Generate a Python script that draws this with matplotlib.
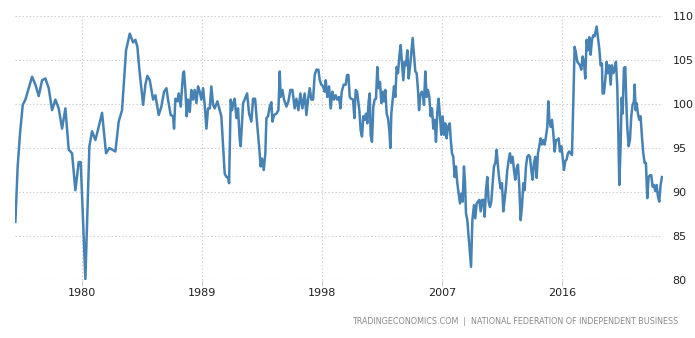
import numpy as np
import matplotlib.pyplot as plt

# NFIB small business optimism index, decimal years
years = [
    1975.0, 1975.17, 1975.35, 1975.55, 1975.75, 1976.0, 1976.25, 1976.5, 1976.75,
    1977.0, 1977.25, 1977.5, 1977.75, 1978.0, 1978.25, 1978.5, 1978.75,
    1979.0, 1979.25, 1979.5, 1979.75, 1979.9, 1980.25, 1980.55, 1980.75,
    1981.0, 1981.25, 1981.5, 1981.8, 1982.05, 1982.5, 1982.75, 1983.0,
    1983.3, 1983.58, 1983.83, 1984.0, 1984.15, 1984.3, 1984.58, 1984.75,
    1984.9, 1985.08, 1985.33, 1985.5, 1985.75, 1985.95,
    1986.15, 1986.33, 1986.45, 1986.65, 1986.83, 1986.9, 1987.0, 1987.15,
    1987.25, 1987.4, 1987.58, 1987.65, 1987.75, 1987.85, 1987.95, 1988.08,
    1988.2, 1988.33, 1988.45, 1988.58, 1988.7, 1988.83, 1988.95, 1989.08,
    1989.2, 1989.33, 1989.45, 1989.58, 1989.7, 1989.83, 1989.95, 1990.15,
    1990.33, 1990.45, 1990.58, 1990.7, 1990.83, 1990.95, 1991.03, 1991.15,
    1991.25, 1991.35, 1991.45, 1991.58, 1991.7, 1991.83, 1991.9, 1992.08,
    1992.2, 1992.38, 1992.53, 1992.7, 1992.83, 1992.98, 1993.13, 1993.28,
    1993.4, 1993.5, 1993.63, 1993.75, 1993.83, 1993.95, 1994.08, 1994.2,
    1994.28, 1994.4, 1994.58, 1994.73, 1994.83, 1994.9, 1995.03, 1995.15,
    1995.33, 1995.48, 1995.63, 1995.78, 1995.95, 1996.08, 1996.23, 1996.38,
    1996.53, 1996.7, 1996.83, 1996.95, 1997.08, 1997.2, 1997.33, 1997.45,
    1997.58, 1997.73, 1997.83, 1997.95, 1998.08, 1998.2, 1998.28, 1998.4,
    1998.53, 1998.65, 1998.78, 1998.9, 1999.03, 1999.15, 1999.28, 1999.38,
    1999.48, 1999.63, 1999.78, 1999.88, 1999.98, 2000.08, 2000.18, 2000.33,
    2000.43, 2000.53, 2000.63, 2000.8, 2000.9, 2001.0, 2001.1, 2001.2,
    2001.3, 2001.4, 2001.5, 2001.58, 2001.65, 2001.75, 2001.85, 2001.95,
    2002.05, 2002.15, 2002.25, 2002.35, 2002.45, 2002.55, 2002.65, 2002.75,
    2002.85, 2002.95, 2003.05, 2003.13, 2003.2, 2003.3, 2003.4, 2003.5,
    2003.6, 2003.7, 2003.8, 2003.9, 2004.0, 2004.1, 2004.2, 2004.3,
    2004.4, 2004.5, 2004.6, 2004.7, 2004.8, 2004.9, 2005.0, 2005.1,
    2005.2, 2005.28, 2005.38, 2005.48, 2005.58, 2005.65, 2005.75, 2005.85,
    2005.95, 2006.05, 2006.15, 2006.25, 2006.35, 2006.45, 2006.55, 2006.65,
    2006.75, 2006.85, 2006.95, 2007.05, 2007.15, 2007.25, 2007.35, 2007.45,
    2007.58, 2007.65, 2007.75, 2007.85, 2007.95, 2008.05, 2008.15, 2008.25,
    2008.35, 2008.45, 2008.55, 2008.65, 2008.73, 2008.8, 2008.9, 2009.0,
    2009.1, 2009.18, 2009.28, 2009.4, 2009.5, 2009.6, 2009.7, 2009.8,
    2009.9, 2010.0, 2010.1, 2010.2, 2010.3, 2010.4, 2010.5, 2010.6,
    2010.7, 2010.8, 2010.9, 2011.0, 2011.1, 2011.2, 2011.3, 2011.4,
    2011.5, 2011.6, 2011.7, 2011.8, 2011.9, 2012.0, 2012.1, 2012.2,
    2012.3, 2012.4, 2012.5, 2012.6, 2012.7, 2012.8, 2012.9, 2013.0,
    2013.1, 2013.2, 2013.3, 2013.4, 2013.5, 2013.6, 2013.7, 2013.8,
    2013.9, 2014.0, 2014.1, 2014.2, 2014.3, 2014.4, 2014.5, 2014.6,
    2014.7, 2014.8, 2014.9, 2014.98, 2015.05, 2015.15, 2015.25, 2015.35,
    2015.45, 2015.55, 2015.65, 2015.75, 2015.85, 2015.95, 2016.05, 2016.15,
    2016.25, 2016.35, 2016.45, 2016.55, 2016.65, 2016.75, 2016.85, 2016.95,
    2017.05, 2017.15, 2017.25, 2017.35, 2017.45, 2017.55, 2017.65, 2017.75,
    2017.85, 2017.95, 2018.05, 2018.15, 2018.25, 2018.35, 2018.45, 2018.6,
    2018.7, 2018.8, 2018.9, 2019.0, 2019.05, 2019.15, 2019.25, 2019.35,
    2019.45, 2019.55, 2019.65, 2019.75, 2019.85, 2019.95, 2020.05, 2020.15,
    2020.23, 2020.3, 2020.4, 2020.48, 2020.55, 2020.65, 2020.75, 2020.83,
    2020.9, 2021.0, 2021.1, 2021.2, 2021.3, 2021.4, 2021.45, 2021.53,
    2021.6, 2021.7, 2021.8, 2021.9, 2022.0, 2022.1, 2022.2, 2022.3,
    2022.4, 2022.5, 2022.6, 2022.7, 2022.8, 2022.9, 2023.0, 2023.1,
    2023.2, 2023.3, 2023.4, 2023.5,
]
index = [
    86.6, 92.9, 96.7, 99.9, 100.5, 101.8, 103.1, 102.2, 100.9,
    102.7, 102.9, 101.8, 99.3, 100.5, 99.5, 97.2, 99.5,
    94.8, 94.4, 90.2, 93.4, 93.4, 80.1, 95.2, 96.9,
    95.9, 97.4, 99.0, 94.4, 95.0, 94.6, 98.0, 99.3,
    106.1, 108.0, 107.0, 107.3, 106.5, 103.9, 99.9, 102.2,
    103.2, 102.7, 100.5, 101.0, 98.75, 99.7,
    101.4, 101.8, 100.5, 98.75, 98.6, 97.2, 100.6, 100.3,
    101.2, 99.7, 103.5, 103.7, 101.6, 98.6, 100.5, 99.1,
    101.6, 100.5, 101.6, 100.1, 102.0, 101.4, 100.5, 101.8,
    99.9, 97.2, 99.5, 99.5, 102.0, 99.9, 99.5, 100.3,
    99.3, 98.6, 95.2, 92.1, 91.7, 91.7, 91.0, 100.5,
    99.3, 100.1, 100.6, 98.4, 99.5, 95.9, 95.2, 100.1,
    100.5, 101.2, 98.9, 98.0, 100.6, 100.6, 97.8, 95.2,
    92.9, 93.8, 92.5, 94.4, 98.4, 98.6, 99.7, 100.2,
    98.0, 98.75, 98.9, 99.3, 103.7, 100.8, 101.6, 100.5,
    99.7, 100.3, 101.6, 101.6, 99.5, 100.6, 99.3, 101.2,
    99.5, 101.2, 98.75, 100.5, 101.8, 100.5, 100.5, 103.3,
    103.9, 103.9, 102.7, 102.2, 102.0, 101.4, 102.7, 100.8,
    102.0, 99.5, 101.4, 100.5, 101.0, 100.5, 100.8, 99.5,
    101.4, 102.2, 102.2, 103.3, 103.3, 100.8, 100.6, 100.5,
    98.4, 101.6, 101.4, 99.3, 97.0, 96.3, 98.6, 98.2,
    98.9, 97.8, 100.3, 101.2, 96.5, 95.7, 99.7, 100.5,
    100.6, 104.2, 101.8, 102.5, 100.1, 101.4, 100.3, 101.6,
    98.9, 98.4, 97.0, 95.0, 98.9, 100.5, 102.0, 100.8,
    104.2, 103.5, 105.4, 106.7, 104.6, 102.7, 104.8, 104.4,
    106.1, 102.9, 104.2, 105.8, 107.5, 105.6, 103.7, 103.5,
    101.6, 99.3, 101.0, 101.4, 101.0, 99.9, 103.7, 100.8,
    101.6, 100.8, 98.6, 99.5, 97.2, 98.2, 95.7, 99.1,
    100.6, 98.6, 96.5, 98.6, 96.5, 97.8, 96.1, 97.4,
    97.8, 96.1, 94.4, 94.0, 91.7, 92.9, 91.0, 89.8,
    88.7, 89.8, 88.9, 92.9, 91.0, 87.6, 86.8, 84.9,
    83.0, 81.5, 86.8, 88.5, 87.0, 88.7, 88.9, 89.1,
    87.8, 89.1, 89.1, 87.2, 90.2, 91.7, 88.9, 88.3,
    88.9, 91.0, 92.9, 93.3, 94.8, 92.9, 91.4, 90.4,
    91.0, 87.8, 89.1, 90.6, 92.5, 93.6, 94.4, 93.3,
    94.0, 92.5, 91.4, 92.7, 93.1, 90.6, 86.8, 88.3,
    91.0, 90.2, 92.9, 94.0, 94.2, 94.0, 92.5, 91.4,
    93.3, 94.0, 91.6, 94.4, 95.2, 96.1, 95.4, 95.9,
    95.4, 96.3, 97.4, 100.3, 98.2, 97.4, 98.2, 96.7,
    94.6, 95.9, 95.9, 96.1, 94.6, 95.2, 94.0, 92.5,
    93.5, 93.7, 94.4, 94.6, 94.4, 94.2, 100.1, 106.5,
    105.8, 104.8, 104.6, 104.4, 103.9, 105.4, 104.8, 102.9,
    107.3, 106.1, 107.6, 105.6, 107.3, 107.8, 107.7, 108.8,
    107.5, 106.3, 104.4, 104.6, 101.2, 101.2, 102.7, 104.8,
    103.5, 104.4, 102.2, 104.4, 103.5, 103.9, 104.8, 102.0,
    96.7, 90.8, 95.2, 100.7, 98.9, 104.1, 104.2, 100.1,
    97.4, 95.2, 95.9, 98.6, 99.9, 100.3, 102.2, 99.3,
    100.1, 98.9, 98.2, 98.6, 96.3, 94.4, 93.3, 93.3,
    89.3, 91.7, 91.9, 91.9, 90.6, 90.8, 90.1, 90.8,
    89.5, 88.9, 90.8, 91.7,
]
xticks = [1980, 1989, 1998, 2007, 2016]
yticks = [80, 85, 90, 95, 100, 105, 110]

fig = plt.figure(figsize=(6.95, 3.38), dpi=100)
ax = fig.add_axes([15 / 695, 1 - 280 / 338, 648 / 695, 264 / 338])

ax.plot(years, index, color="#4682b4", lw=1.8, solid_joinstyle="round")

ax.set_xlim(1974.97, 2023.58)
ax.set_ylim(80, 110)
ax.set_xticks(xticks)
ax.set_yticks(yticks)
ax.grid(True, color="#cccccc", linestyle=(0, (1.2, 2)), lw=0.8)
ax.yaxis.tick_right()
ax.tick_params(axis="y", length=0, pad=7, labelsize=8, labelcolor="#222222")
ax.tick_params(axis="x", length=4, color="#cccccc", pad=2, labelsize=8,
               labelcolor="#222222")
for s in ax.spines.values():
    s.set_visible(False)

fig.text(678 / 695, 1 - 322 / 338,
         "TRADINGECONOMICS.COM  |  NATIONAL FEDERATION OF INDEPENDENT BUSINESS",
         ha="right", va="center", fontsize=5.8, color="#8a8a8a")

fig.savefig("out.png", dpi=100)
